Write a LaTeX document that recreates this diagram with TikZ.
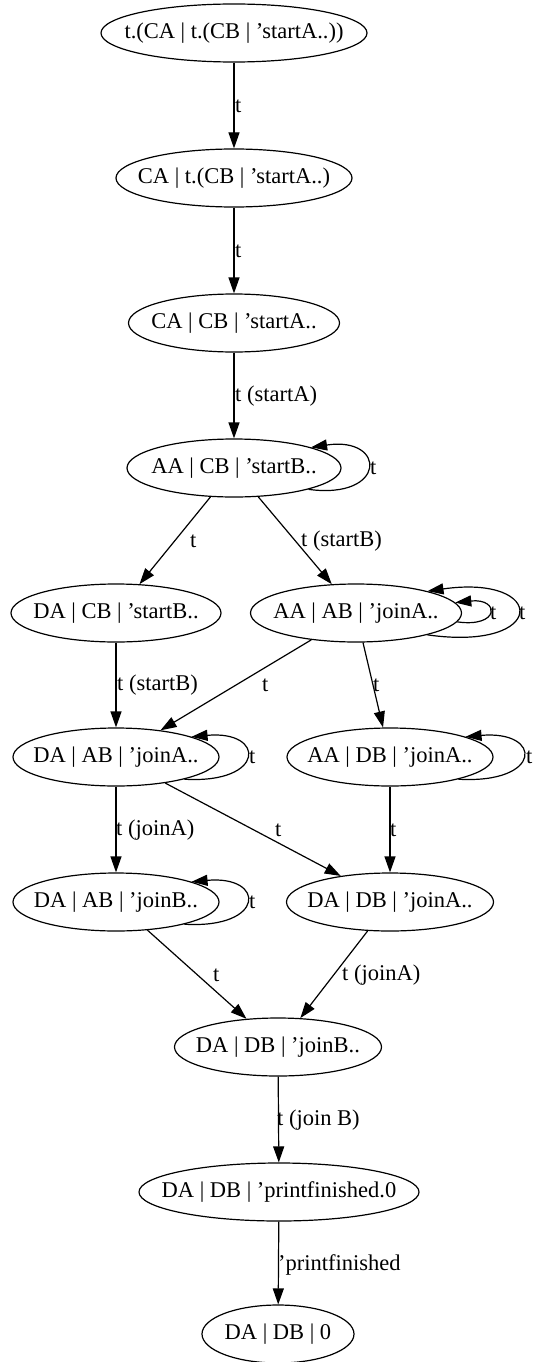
\documentclass[tikz,border=0pt]{standalone}
\usepackage{fontspec}
\setmainfont{Liberation Serif}
\usetikzlibrary{shapes.geometric,arrows.meta}
\newcommand\zw[1]{\makebox[0pt]{#1}}
\begin{document}
\begin{tikzpicture}[x=1pt,y=-1pt,
  st/.style={ellipse, draw, line width=1.2pt, inner sep=0pt, minimum height=58pt, font=\fontsize{22.5}{27}\selectfont},
  lbl/.style={anchor=west, inner sep=0pt, font=\fontsize{22.5}{27}\selectfont},
  edge/.style={line width=1.2pt, -{Triangle[length=16pt,width=11pt]}}]
\fill[white] (0,0) rectangle (534,1362);
\useasboundingbox (0,0) rectangle (534,1362);
% states
\node[st, minimum width=266pt] (n1) at (234,33) {\zw{t.(CA | t.(CB | ’startA..))}};
\node[st, minimum width=236pt] (n2) at (234,178) {\zw{CA | t.(CB | ’startA..)}};
\node[st, minimum width=211pt] (n3) at (234,323) {\zw{CA | CB | ’startA..}};
\node[st, minimum width=214pt] (n4) at (234,468) {\zw{AA | CB | ’startB..}};
\node[st, minimum width=210pt] (n5) at (116,613) {\zw{DA | CB | ’startB..}};
\node[st, minimum width=211pt] (n6) at (356,613) {\zw{AA | AB | ’joinA..}};
\node[st, minimum width=206pt] (n7) at (116,757) {\zw{DA | AB | ’joinA..}};
\node[st, minimum width=206pt] (n8) at (390,757) {\zw{AA | DB | ’joinA..}};
\node[st, minimum width=206pt] (n9) at (116,902) {\zw{DA | AB | ’joinB..}};
\node[st, minimum width=207pt] (n10) at (390,902) {\zw{DA | DB | ’joinA..}};
\node[st, minimum width=207pt] (n11) at (278,1047) {\zw{DA | DB | ’joinB..}};
\node[st, minimum width=280pt] (n12) at (279,1192) {\zw{DA | DB | ’printfinished.0}};
\node[st, minimum width=152pt] (n13) at (278,1334) {\zw{DA | DB | 0}};
% edges
\draw[edge] (n1) -- (n2);
\draw[edge] (n2) -- (n3);
\draw[edge] (n3) -- (n4);
\draw[edge] (n4.-16) .. controls (387,500) and (387,436) .. (n4.15);
\draw[edge] (n4) -- (n5);
\draw[edge] (n4) -- (n6);
\draw[edge] (n6.-5) .. controls (500,628) and (500,598) .. (n6.6);
\draw[edge] (n6.-17) .. controls (548,652) and (548,574) .. (n6.17);
\draw[edge] (n5) -- (n7);
\draw[edge] (n6) -- (n7);
\draw[edge] (n6) -- (n8);
\draw[edge] (n7.-18) .. controls (266,784) and (266,730) .. (n7.15);
\draw[edge] (n8.-18) .. controls (543,784) and (543,730) .. (n8.15);
\draw[edge] (n7) -- (n9);
\draw[edge] (n7) -- (n10);
\draw[edge] (n8) -- (n10);
\draw[edge] (n9.-18) .. controls (266,929) and (266,875) .. (n9.15);
\draw[edge] (n9) -- (n11);
\draw[edge] (n10) -- (n11);
\draw[edge] (n11) -- (n12);
\draw[edge] (n12) -- (n13);
% labels
\node[lbl] (l12) at (235,106) {t};
\node[lbl] (l23) at (235,251) {t};
\node[lbl] (l34) at (235,396) {t (startA)};
\node[lbl] (l44) at (370,468) {t};
\node[lbl] (l45) at (190,541) {t};
\node[lbl] (l46) at (301,541) {t (startB)};
\node[lbl] (l66a) at (490,613) {t};
\node[lbl] (l66b) at (519,613) {t};
\node[lbl] (l57) at (117,685) {t (startB)};
\node[lbl] (l67) at (262,685) {t};
\node[lbl] (l68) at (373,685) {t};
\node[lbl] (l77) at (249,757) {t};
\node[lbl] (l88) at (526,757) {t};
\node[lbl] (l79) at (116,830) {t (joinA)};
\node[lbl] (l710) at (275,830) {t};
\node[lbl] (l810) at (390,830) {t};
\node[lbl] (l99) at (249,902) {t};
\node[lbl] (l911) at (213,975) {t};
\node[lbl] (l1011) at (342,975) {t (joinA)};
\node[lbl] (l1112) at (277,1120) {t (join B)};
\node[lbl] (l1213) at (278,1265) {’printfinished};
\end{tikzpicture}
\end{document}
